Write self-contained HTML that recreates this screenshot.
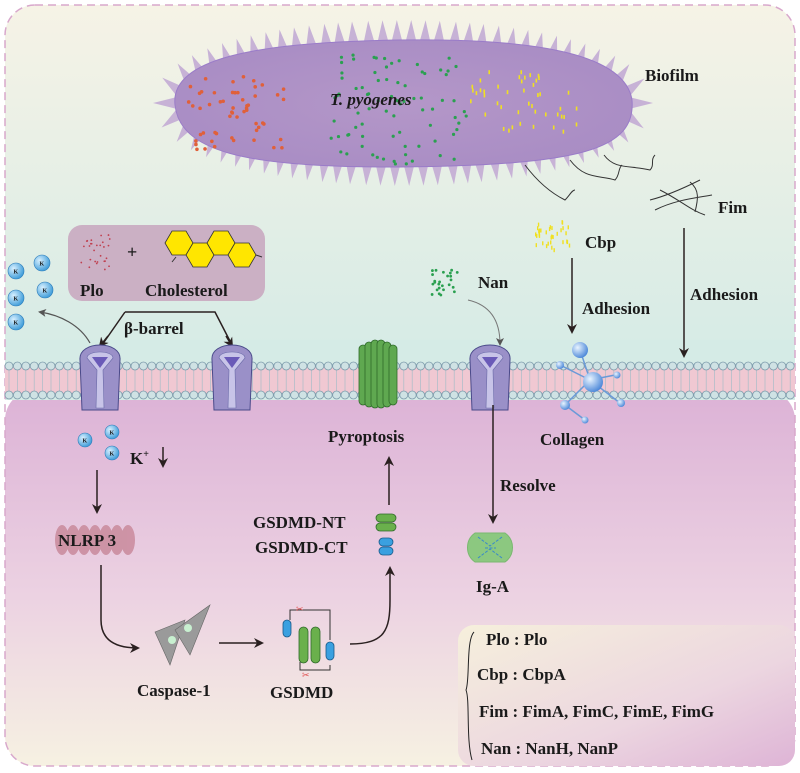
<!DOCTYPE html>
<html><head><meta charset="utf-8"><style>
html,body{margin:0;padding:0;background:#fff}
svg{display:block}
text{font-family:"Liberation Serif",serif;font-weight:bold;fill:#1a1a1a}
</style></head><body>
<svg id="s" width="800" height="773" viewBox="0 0 800 773" xmlns="http://www.w3.org/2000/svg">
<defs>
<linearGradient id="bgTop" x1="0" y1="0" x2="0" y2="1">
<stop offset="0" stop-color="#f6f3e6"/><stop offset="1" stop-color="#d5ebe6"/></linearGradient>
<linearGradient id="bgBot" x1="0" y1="0" x2="0" y2="1">
<stop offset="0" stop-color="#dcb2d6"/><stop offset="0.55" stop-color="#ecd2e2"/><stop offset="1" stop-color="#f6f1e2"/></linearGradient>
<linearGradient id="leg" x1="0" y1="0" x2="1" y2="1">
<stop offset="0" stop-color="#f6f0dc"/><stop offset="0.6" stop-color="#ecd6e0"/><stop offset="1" stop-color="#deb4d6"/></linearGradient>
<radialGradient id="bact" cx="0.5" cy="0.5" r="0.6">
<stop offset="0" stop-color="#b497c8"/><stop offset="1" stop-color="#a88cc4"/></radialGradient>
<radialGradient id="kb" cx="0.35" cy="0.35" r="0.7"><stop offset="0" stop-color="#d8f0ff"/><stop offset="1" stop-color="#3a9ad8"/></radialGradient>
<radialGradient id="cb" cx="0.35" cy="0.35" r="0.7"><stop offset="0" stop-color="#e8f4ff"/><stop offset="1" stop-color="#4a86d8"/></radialGradient>
<marker id="ar" markerWidth="10" markerHeight="10" refX="8" refY="5" orient="auto" markerUnits="userSpaceOnUse"><path d="M0,0 L10,5 L0,10 L3,5z" fill="#2a2020"/></marker>
<marker id="arg" markerWidth="8" markerHeight="8" refX="6" refY="4" orient="auto" markerUnits="userSpaceOnUse"><path d="M0,0 L8,4 L0,8 L2,4z" fill="#555"/></marker>
</defs>
<rect x="0" y="0" width="800" height="773" fill="#fff"/>
<rect x="5" y="5" width="790" height="360" rx="30" fill="url(#bgTop)"/>
<rect x="5" y="390" width="790" height="376" rx="30" fill="url(#bgBot)"/>
<rect x="5" y="340" width="790" height="60" fill="#d5ebe6"/>
<rect x="5" y="5" width="790" height="761" rx="30" fill="none" stroke="#d8a8cc" stroke-width="1.5" stroke-dasharray="8 5"/>
<rect x="5" y="365" width="790" height="30" fill="#f0c8d2"/>
<g id="mem"></g>
<g id="spk"></g>
<path d="M175,105 C170,60 250,42 400,40 C540,38 625,55 632,100 C636,150 580,165 400,167 C240,168 180,150 175,105z" fill="url(#bact)" stroke="#9a7cc8" stroke-width="1"/>
<g id="dots"></g>
<g fill="none" stroke="#333" stroke-width="1">
<path d="M604,155 C615,170 630,165 650,170 C655,165 650,160 655,155"/>
<path d="M570,160 C585,180 600,175 615,180 C620,175 618,168 622,165"/>
<path d="M525,165 C540,185 555,195 565,200 C570,195 572,190 575,190"/>
<path d="M650,200 C670,195 690,185 700,180 M655,210 C675,200 695,198 712,195 M660,190 C680,200 690,210 705,215 M690,182 C700,190 698,200 695,212"/>
</g>
<text x="645" y="81" font-size="17">Biofilm</text>
<text x="330" y="105" font-size="17" font-style="italic">T. pyogenes</text>
<text x="718" y="213" font-size="17">Fim</text>
<g id="cbp"></g>
<text x="585" y="248" font-size="17">Cbp</text>
<line x1="572" y1="258" x2="572" y2="332" stroke="#2a2020" stroke-width="1.5" marker-end="url(#ar)"/>
<text x="582" y="314" font-size="17">Adhesion</text>
<line x1="684" y1="228" x2="684" y2="356" stroke="#2a2020" stroke-width="1.5" marker-end="url(#ar)"/>
<text x="690" y="300" font-size="17">Adhesion</text>
<g id="nan"></g>
<text x="478" y="288" font-size="17">Nan</text>
<path d="M468,300 C490,305 500,320 500,344" fill="none" stroke="#777" stroke-width="1" marker-end="url(#arg)"/>
<rect x="68" y="225" width="197" height="76" rx="14" fill="#cbb0c4"/>
<g id="plo"></g>
<text x="127" y="258" font-size="18">+</text>
<g fill="#ffe600" stroke="#333" stroke-width="0.8">
<polygon points="165,243 172,231 186,231 193,243 186,255 172,255"/>
<polygon points="186,255 193,243 207,243 214,255 207,267 193,267"/>
<polygon points="207,243 214,231 228,231 235,243 228,255 214,255"/>
<polygon points="228,255 235,243 249,243 256,255 249,267 235,267"/>
</g>
<line x1="172" y1="262" x2="176" y2="257" stroke="#333"/><line x1="256" y1="255" x2="262" y2="257" stroke="#333"/>
<text x="80" y="296" font-size="17">Plo</text>
<text x="145" y="296" font-size="17">Cholesterol</text>
<g id="kt"></g>
<path d="M90,343 C80,325 60,315 40,312" fill="none" stroke="#555" stroke-width="1.2" marker-end="url(#arg)"/>
<path d="M125,312 L215,312 L232,345 M125,312 L102,345" fill="none" stroke="#2a2020" stroke-width="1.5"/>
<path d="M108,336 L100,346" stroke="#2a2020" stroke-width="1.5" marker-end="url(#ar)"/>
<path d="M226,336 L232,346" stroke="#2a2020" stroke-width="1.5" marker-end="url(#ar)"/>
<text x="124" y="334" font-size="17">β-barrel</text>
<g id="ch"></g>
<g fill="#5fa850" stroke="#2f6a2a" stroke-width="0.8">
<rect x="359" y="345" width="8" height="60" rx="4"/><rect x="365" y="342" width="8" height="65" rx="4"/>
<rect x="371" y="340" width="8" height="68" rx="4"/><rect x="377" y="340" width="8" height="68" rx="4"/>
<rect x="383" y="342" width="8" height="65" rx="4"/><rect x="389" y="345" width="8" height="60" rx="4"/>
</g>
<g stroke="#6a9ad8" stroke-width="1.5"><line x1="580" y1="350" x2="590" y2="380"/><line x1="590" y1="380" x2="615" y2="375"/><line x1="590" y1="380" x2="565" y2="405"/><line x1="590" y1="380" x2="620" y2="403"/><line x1="565" y1="405" x2="585" y2="420"/><line x1="560" y1="365" x2="590" y2="380"/></g>
<circle cx="580" cy="350" r="8" fill="url(#cb)"/><circle cx="593" cy="382" r="10" fill="url(#cb)"/><circle cx="560" cy="365" r="4" fill="url(#cb)"/>
<circle cx="617" cy="375" r="3.5" fill="url(#cb)"/><circle cx="565" cy="405" r="5" fill="url(#cb)"/><circle cx="621" cy="403" r="4" fill="url(#cb)"/><circle cx="585" cy="420" r="3.5" fill="url(#cb)"/>
<text x="540" y="445" font-size="17">Collagen</text>
<text x="328" y="442" font-size="17">Pyroptosis</text>
<line x1="389" y1="505" x2="389" y2="458" stroke="#2a2020" stroke-width="1.5" marker-end="url(#ar)"/>
<g id="ki"></g>
<text x="130" y="464" font-size="17">K<tspan font-size="10" dy="-7">+</tspan></text>
<line x1="163" y1="447" x2="163" y2="466" stroke="#2a2020" stroke-width="1.5" marker-end="url(#ar)"/>
<line x1="97" y1="470" x2="97" y2="512" stroke="#2a2020" stroke-width="1.5" marker-end="url(#ar)"/>
<g fill="#c98a9c" opacity="0.85">
<ellipse cx="62" cy="540" rx="7" ry="15"/><ellipse cx="73" cy="540" rx="7" ry="15"/><ellipse cx="84" cy="540" rx="7" ry="15"/><ellipse cx="95" cy="540" rx="7" ry="15"/><ellipse cx="106" cy="540" rx="7" ry="15"/><ellipse cx="117" cy="540" rx="7" ry="15"/><ellipse cx="128" cy="540" rx="7" ry="15"/>
</g>
<text x="58" y="546" font-size="17">NLRP 3</text>
<path d="M101,565 L101,620 C101,640 115,648 138,648" fill="none" stroke="#2a2020" stroke-width="1.5" marker-end="url(#ar)"/>
<g fill="#9a9a9a" stroke="#666" stroke-width="0.6">
<polygon points="155,632 185,620 170,665"/><polygon points="175,630 210,605 190,655"/>
</g>
<circle cx="172" cy="640" r="4" fill="#c8f0d0"/><circle cx="188" cy="628" r="4" fill="#c8f0d0"/>
<text x="137" y="696" font-size="17">Caspase-1</text>
<line x1="219" y1="643" x2="262" y2="643" stroke="#2a2020" stroke-width="1.5" marker-end="url(#ar)"/>
<g>
<path d="M290,620 L290,610 L330,610 L330,640 M300,662 L300,670 L330,670 L330,665" fill="none" stroke="#333" stroke-width="1"/>
<rect x="283" y="620" width="8" height="17" rx="4" fill="#3aa0e0" stroke="#1a5a8a" stroke-width="0.8"/>
<rect x="299" y="627" width="9" height="36" rx="4.5" fill="#6ab04c" stroke="#2f6a2a" stroke-width="0.8"/>
<rect x="311" y="627" width="9" height="36" rx="4.5" fill="#6ab04c" stroke="#2f6a2a" stroke-width="0.8"/>
<rect x="326" y="642" width="8" height="18" rx="4" fill="#3aa0e0" stroke="#1a5a8a" stroke-width="0.8"/>
<text x="296" y="612" font-size="9" style="font-weight:normal;fill:#e05050">✂</text>
<text x="302" y="678" font-size="9" style="font-weight:normal;fill:#e05050">✂</text>
</g>
<text x="270" y="698" font-size="17">GSDMD</text>
<path d="M350,644 C385,644 390,630 390,600 L390,568" fill="none" stroke="#2a2020" stroke-width="1.5" marker-end="url(#ar)"/>
<text x="253" y="528" font-size="17">GSDMD-NT</text>
<text x="255" y="553" font-size="17">GSDMD-CT</text>
<rect x="376" y="514" width="20" height="8" rx="4" fill="#6ab04c" stroke="#2f6a2a" stroke-width="0.8"/>
<rect x="376" y="523" width="20" height="8" rx="4" fill="#6ab04c" stroke="#2f6a2a" stroke-width="0.8"/>
<rect x="379" y="538" width="14" height="8" rx="4" fill="#3aa0e0" stroke="#1a5a8a" stroke-width="0.8"/>
<rect x="379" y="547" width="14" height="8" rx="4" fill="#3aa0e0" stroke="#1a5a8a" stroke-width="0.8"/>
<line x1="493" y1="405" x2="493" y2="522" stroke="#2a2020" stroke-width="1.5" marker-end="url(#ar)"/>
<text x="500" y="491" font-size="17">Resolve</text>
<path d="M475,533 L505,533 C515,540 515,555 505,562 L475,562 C465,555 465,540 475,533z" fill="#8cc880" stroke="#7ab870"/>
<path d="M478,537 L490,546 L502,537 M478,558 L490,549 L502,558 M485,548 L496,548" fill="none" stroke="#3a8ac8" stroke-width="1" stroke-dasharray="3 1.5"/>
<text x="476" y="592" font-size="17">Ig-A</text>
<rect x="458" y="625" width="337" height="141" rx="16" fill="url(#leg)"/>
<path d="M474,632 C466,640 470,680 466,690 C470,700 466,740 472,760" fill="none" stroke="#222" stroke-width="1"/>
<text x="486" y="645" font-size="17">Plo : Plo</text>
<text x="477" y="680" font-size="17">Cbp : CbpA</text>
<text x="479" y="717" font-size="17">Fim : FimA, FimC,  FimE, FimG</text>
<text x="481" y="754" font-size="17">Nan : NanH, NanP</text>
</svg>
<script>
var NS="http://www.w3.org/2000/svg";
function el(p,t,a){var e=document.createElementNS(NS,t);for(var k in a)e.setAttribute(k,a[k]);document.getElementById(p).appendChild(e);return e;}
for(var x=9;x<796;x+=8.4){
 el("mem","line",{x1:x,y1:369,x2:x,y2:391,stroke:"#a8bcc8","stroke-width":0.7});
 el("mem","circle",{cx:x,cy:366,r:4,fill:"#cfe2e4",stroke:"#7e9cac","stroke-width":0.8});
 el("mem","circle",{cx:x,cy:395,r:4,fill:"#cfe2e4",stroke:"#7e9cac","stroke-width":0.8});
}
// spikes evenly spaced along perimeter, fixed length along normal
var cx=403,cy=103,rx=230,ry=63;
var pts=[],L=0,prev=null,N=720;
for(var i=0;i<=N;i++){var t=i/N*2*Math.PI,p=[cx+Math.cos(t)*rx,cy+Math.sin(t)*ry];if(prev)L+=Math.hypot(p[0]-prev[0],p[1]-prev[1]);pts.push([t,L]);prev=p;}
var ns=70,step=L/ns,j=0;
for(var k=0;k<ns;k++){var target=k*step;while(pts[j][1]<target)j++;var t=pts[j][0];
 var px=cx+Math.cos(t)*rx,py=cy+Math.sin(t)*ry;
 var nx=Math.cos(t)/rx,ny=Math.sin(t)/ry,nl=Math.hypot(nx,ny);nx/=nl;ny/=nl;
 var tx=-ny,ty=nx,w=6,h=20;
 el("spk","polygon",{points:(px+tx*w-nx*4)+","+(py+ty*w-ny*4)+" "+(px+nx*h)+","+(py+ny*h)+" "+(px-tx*w-nx*4)+","+(py-ty*w-ny*4),fill:"#c7b2d6"});}
var sd=7;function r(){sd=(sd*9301+49297)%233280;return sd/233280;}
for(var i=0;i<55;i++)el("dots","circle",{cx:188+r()*100,cy:75+r()*75,r:1.8,fill:"#e0603a"});
for(var i=0;i<80;i++)el("dots","circle",{cx:330+r()*140,cy:55+r()*110,r:1.6,fill:"#2aa050"});
for(var i=0;i<45;i++)el("dots","rect",{x:470+r()*110,y:70+r()*60,width:1.6,height:4,fill:"#f0e020"});
for(var i=0;i<35;i++)el("cbp","rect",{x:535+r()*35,y:218+r()*32,width:1.4,height:4,fill:"#f0e020"});
for(var i=0;i<25;i++)el("nan","circle",{cx:432+r()*30,cy:270+r()*25,r:1.4,fill:"#2aa050"});
for(var i=0;i<28;i++)el("plo","circle",{cx:80+r()*30,cy:235+r()*35,r:0.9,fill:"#c04050"});
function kc(g,c,rr){el(g,"circle",{cx:c[0],cy:c[1],r:rr,fill:"url(#kb)",stroke:"#2a7ab8","stroke-width":0.6});var t=el(g,"text",{x:c[0]-2.5,y:c[1]+2.5,"font-size":6});t.textContent="K";}
[[16,271],[42,263],[16,298],[45,290],[16,322]].forEach(function(c){kc("kt",c,8);});
[[85,440],[112,432],[112,453]].forEach(function(c){kc("ki",c,7);});
[100,232,490].forEach(function(x){
 el("ch","path",{d:"M"+(x-20)+",360 C"+(x-22)+",340 "+(x+22)+",340 "+(x+20)+",360 L"+(x+18)+",410 L"+(x-18)+",410z",fill:"#9a90c8",stroke:"#4a4a8a","stroke-width":1});
 el("ch","path",{d:"M"+(x-13)+",358 C"+(x-13)+",350 "+(x+13)+",350 "+(x+13)+",358 L"+(x+3)+",370 L"+(x+4)+",408 L"+(x-4)+",408 L"+(x-3)+",370z",fill:"#c8c4e8",stroke:"#6a6aa8","stroke-width":0.6});
 el("ch","path",{d:"M"+(x-8)+",357 L"+(x+8)+",357 L"+x+",368z",fill:"#6a5ab8"});
});
</script>
</body></html>
